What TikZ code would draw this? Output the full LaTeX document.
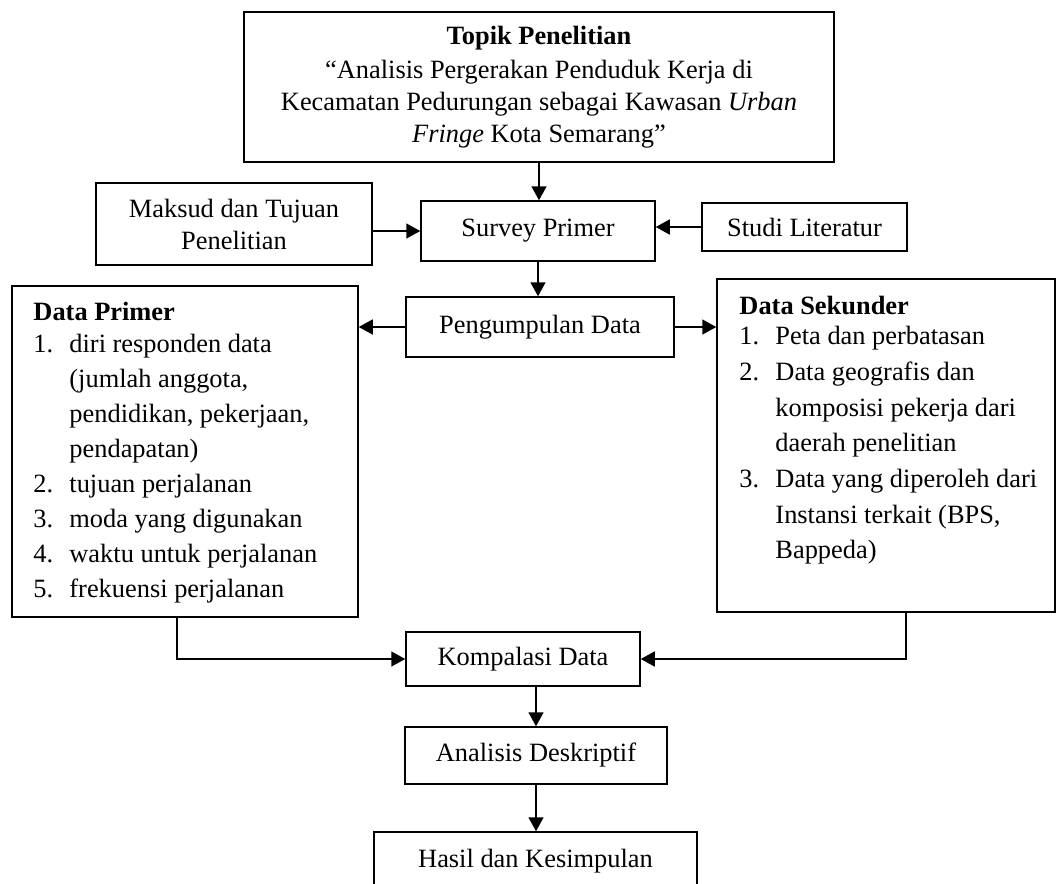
\documentclass[tikz,border=0pt]{standalone}
\usepackage{fontspec}
\setmainfont{Liberation Serif}
\usetikzlibrary{positioning,arrows.meta}
\newcommand\butir[2]{\makebox[36pt][l]{#1}#2}
\newcommand\lanjut[1]{\hspace*{36pt}#1}

\begin{document}
\begin{tikzpicture}[x=1pt,y=-1pt,
box/.style={rectangle,draw,line width=1.5pt,align=center,inner sep=0pt,font=\fontsize{26.4}{32}\selectfont},
listtext/.style={align=left,inner sep=0pt,anchor=north west,font=\fontsize{26.4}{35}\selectfont},
arrow/.style={-{Triangle[length=14pt,width=15pt]},line width=1.5pt}]
\useasboundingbox (0,0) rectangle (1056,883);
\node[box,minimum width=590,minimum height=150] (topik) at (539,87) {\textbf{Topik Penelitian}\\[2pt]“Analisis Pergerakan Penduduk Kerja di\\Kecamatan Pedurungan sebagai Kawasan \textit{Urban}\\\textit{Fringe} Kota Semarang”};
\node[box,minimum width=276,minimum height=82] (maksud) at (234,224) {Maksud dan Tujuan\\Penelitian};
\node[box,minimum width=234,minimum height=60] (survey) at (538,231) {Survey Primer};
\node[box,minimum width=205,minimum height=48] (studi) at (804.5,227) {Studi Literatur};
\node[box,minimum width=346,minimum height=331] (primer) at (185,451.5) {};
\node[box,minimum width=268,minimum height=60] (kumpul) at (540,327) {Pengumpulan Data};
\node[box,minimum width=338,minimum height=333] (sekunder) at (886,445.5) {};
\node[box,minimum width=234,minimum height=54] (kompalasi) at (523,659) {Kompalasi Data};
\node[box,minimum width=262,minimum height=57] (analisis) at (536,755.5) {Analisis Deskriptif};
\node[box,minimum width=323,minimum height=58] (hasil) at (535.5,861) {Hasil dan Kesimpulan};
% isi kotak data
\node[listtext] (primertxt) at ([xshift=22pt,yshift=-17pt]primer.north west) {\textbf{Data Primer}\\[-3pt]
\butir{1.}{diri responden data}\\\lanjut{(jumlah anggota,}\\\lanjut{pendidikan, pekerjaan,}\\\lanjut{pendapatan)}\\
\butir{2.}{tujuan perjalanan}\\\butir{3.}{moda yang digunakan}\\\butir{4.}{waktu untuk perjalanan}\\\butir{5.}{frekuensi perjalanan}};
\node[listtext] (sekundertxt) at ([xshift=23pt,yshift=-18pt]sekunder.north west) {\textbf{Data Sekunder}\\[-5pt]
\butir{1.}{Peta dan perbatasan}\\[0.7pt]\butir{2.}{Data geografis dan}\\[0.7pt]\lanjut{komposisi pekerja dari}\\[0.7pt]\lanjut{daerah penelitian}\\[0.7pt]
\butir{3.}{Data yang diperoleh dari}\\[0.7pt]\lanjut{Instansi terkait (BPS,}\\[0.7pt]\lanjut{Bappeda)}};
% panah
\draw[arrow](topik.south)--(topik.south |- survey.north);
\draw[arrow](maksud.east |- survey.west)--(survey.west); \draw[arrow](studi.west)--(studi.west -| survey.east);
\draw[arrow](survey.south)--(survey.south |- kumpul.north);
\draw[arrow](kumpul.west)--(kumpul.west -| primer.east); \draw[arrow](kumpul.east)--(kumpul.east -| sekunder.west);
\draw[arrow]([xshift=-8pt]primer.south) |- (kompalasi.west); \draw[arrow]([xshift=20pt]sekunder.south) |- (kompalasi.east);
\draw[arrow](analisis.north |- kompalasi.south)--(analisis.north); \draw[arrow](analisis.south)--(analisis.south |- hasil.north);
\end{tikzpicture}
\end{document}
